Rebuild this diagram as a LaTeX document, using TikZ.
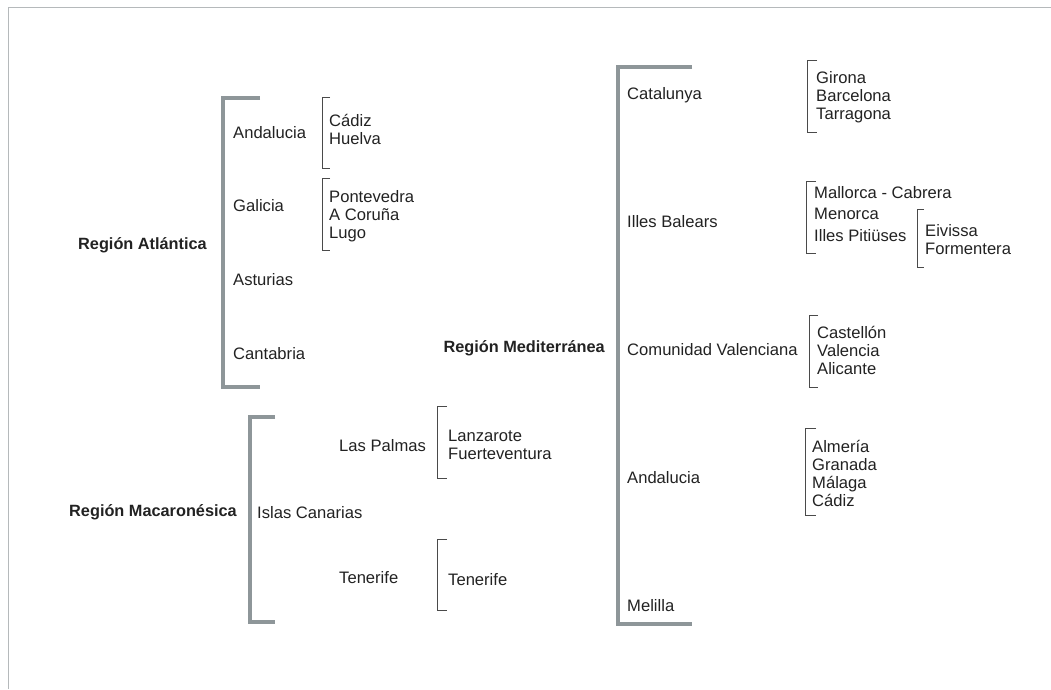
\documentclass[tikz,border=0pt]{standalone}
\usepackage{fontspec}
\setmainfont{Liberation Sans}
\usepackage{tikz}

\definecolor{bargray}{HTML}{8E9699}
\definecolor{framegray}{HTML}{B5B9BB}
\definecolor{tickgray}{HTML}{4A4A4A}
\definecolor{textdark}{HTML}{222222}

\tikzset{
  item/.style={anchor=base west, inner sep=0pt, text=textdark, font=\fontsize{16.6}{18}\selectfont},
  region/.style={anchor=base east, inner sep=0pt, text=textdark, font=\fontsize{16.3}{18}\selectfont\bfseries},
  bigbrace/.style={draw=bargray, line width=4pt},
  smallbrace/.style={draw=tickgray, line width=1pt},
  frameline/.style={draw=framegray, line width=1.8pt}
}

\begin{document}
\begin{tikzpicture}[x=1pt, y=-1pt]
    \useasboundingbox (0,0) rectangle (1051,689);
    \draw[frameline] (1051,7.5) -- (8.5,7.5) -- (8.5,689);

    \node[region] (atl) at (207,249) {Región Atlántica};
    \node[region] (mac) at (237,516) {Región Macaronésica};
    \node[region] (med) at (605,352) {Región Mediterránea};

    \draw[bigbrace] (260,98) -- (223,98) -- (223,387) -- (260,387);
    \draw[bigbrace] (275,417) -- (250,417) -- (250,622) -- (275,622);
    \draw[bigbrace] (692,67) -- (618,67) -- (618,624) -- (692,624);

    \node[item] (atl-and) at (233,138) {Andalucia};
    \node[item] (atl-gal) at (233,211) {Galicia};
    \node[item] (atl-ast) at (233,285) {Asturias};
    \node[item] (atl-can) at (233,359) {Cantabria};

    \draw[smallbrace] (330,97) -- (322,97) -- (322,168) -- (330,168);
    \foreach \prov [count=\i from 0] in {Cádiz,Huelva}
        \node[item] (and1-\i) at (329,{126+18*\i}) {\prov};
    \draw[smallbrace] (330,178) -- (322,178) -- (322,250) -- (330,250);
    \foreach \prov [count=\i from 0] in {Pontevedra,A Coruña,Lugo}
        \node[item] (gal-\i) at (329,{202+18*\i}) {\prov};

    \node[item] (mac-can) at (257,518) {Islas Canarias};
    \node[item] (mac-lp) at (339,451) {Las Palmas};
    \node[item] (mac-tf) at (339,583) {Tenerife};

    \draw[smallbrace] (447,406) -- (437,406) -- (437,478) -- (447,478);
    \foreach \prov [count=\i from 0] in {Lanzarote,Fuerteventura}
        \node[item] (lp-\i) at (448,{441+18*\i}) {\prov};
    \draw[smallbrace] (447,539) -- (437,539) -- (437,610) -- (447,610);
    \node[item] (tf-0) at (448,585) {Tenerife};

    \node[item] (med-cat) at (627,99) {Catalunya};
    \node[item] (med-bal) at (627,227) {Illes Balears};
    \node[item] (med-val) at (627,355) {Comunidad Valenciana};
    \node[item] (med-and) at (627,483) {Andalucia};
    \node[item] (med-mel) at (627,611) {Melilla};

    \draw[smallbrace] (817,60) -- (807,60) -- (807,132) -- (817,132);
    \foreach \prov [count=\i from 0] in {Girona,Barcelona,Tarragona}
        \node[item] (cat-\i) at (816,{83+18*\i}) {\prov};

    \draw[smallbrace] (816,181) -- (806,181) -- (806,253) -- (816,253);
    \foreach \prov [count=\i from 0] in {Mallorca - Cabrera,Menorca,Illes Pitiüses}
        \node[item] (bal-\i) at (814,{198+21.5*\i}) {\prov};
    \draw[smallbrace] (924,209) -- (917,209) -- (917,267) -- (924,267);
    \foreach \prov [count=\i from 0] in {Eivissa,Formentera}
        \node[item] (pit-\i) at (925,{236+18*\i}) {\prov};

    \draw[smallbrace] (818,315) -- (809,315) -- (809,387) -- (818,387);
    \foreach \prov [count=\i from 0] in {Castellón,Valencia,Alicante}
        \node[item] (val-\i) at (817,{338+18*\i}) {\prov};

    \draw[smallbrace] (816,428) -- (805,428) -- (805,515) -- (816,515);
    \foreach \prov [count=\i from 0] in {Almería,Granada,Málaga,Cádiz}
        \node[item] (and2-\i) at (812,{452+18*\i}) {\prov};
\end{tikzpicture}
\end{document}
